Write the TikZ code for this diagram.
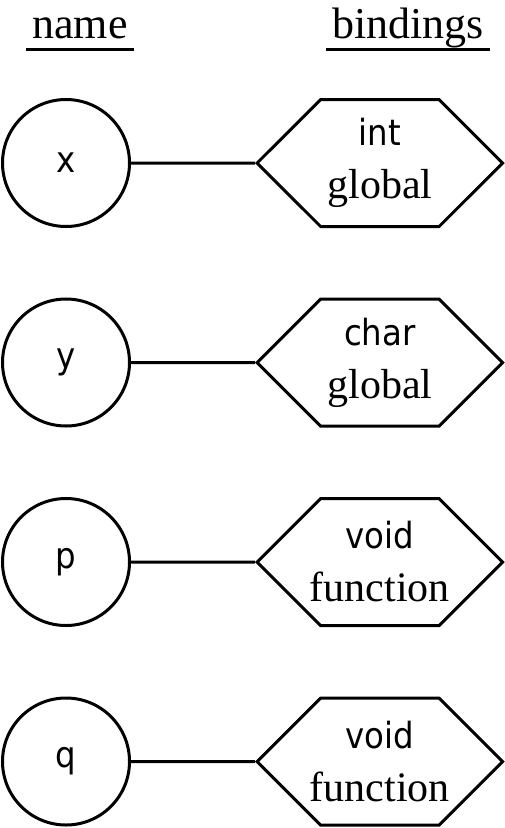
\documentclass[tikz,border=0pt]{standalone}
\usepackage{fontspec}
\setmainfont{Liberation Serif}
\setsansfont{DejaVu Sans}[FakeStretch=0.9]
\usetikzlibrary{shapes,positioning}
\newcommand{\kind}[1]{{\sffamily\fontsize{36}{53}\selectfont #1}}

\begin{document}
\begin{tikzpicture}[% styles for all nodes and links
			x=1pt,y=-1pt,
			every node/.style={
				align=center,  		% "\\" breaks the two lines of a binding
				font=\fontsize{42}{53}\selectfont
			},
			every edge/.style={draw,line width=3pt},
			namenode/.style={circle,draw,line width=3pt,minimum size=127pt,inner sep=0pt,
				font=\sffamily\fontsize{36}{44}\selectfont},
			bindnode/.style={signal,signal to=west and east,signal pointer angle=90,draw,
				line width=3pt,minimum width=245.5pt,minimum height=127pt,
				inner xsep=-40pt,inner ysep=0pt},	% text may run over the slanted sides
			header/.style={anchor=base,inner xsep=6pt,font=\fontsize{44}{53}\selectfont}
		]
		\useasboundingbox (0,0) rectangle (504,828);
		\node[header](H1) at (80,38){name};
		\node[header](H2) at (408,38){bindings};
		\node[namenode](N1) at (66,163){x};
		\node[namenode](N2)[below=69.5pt of N1]{y};
		\node[namenode](N3)[below=69.5pt of N2]{p};
		\node[namenode](N4)[below=69.5pt of N3]{q};
		\node[bindnode](B1)[right=124pt of N1]{\kind{int} \\ global};
		\node[bindnode](B2)[right=124pt of N2]{\kind{char} \\ global};
		\node[bindnode](B3)[right=124pt of N3]{\kind{void} \\ function};
		\node[bindnode](B4)[right=124pt of N4]{\kind{void} \\ function};
		\path
		([yshift=-11.5pt]H1.base west)edge ([yshift=-11.5pt]H1.base east)
		([yshift=-11.5pt]H2.base west)edge ([yshift=-11.5pt]H2.base east)
		(N1)edge (B1)
		(N2)edge (B2)
		(N3)edge (B3)
		(N4)edge (B4)
		;
	\end{tikzpicture}
\end{document}
